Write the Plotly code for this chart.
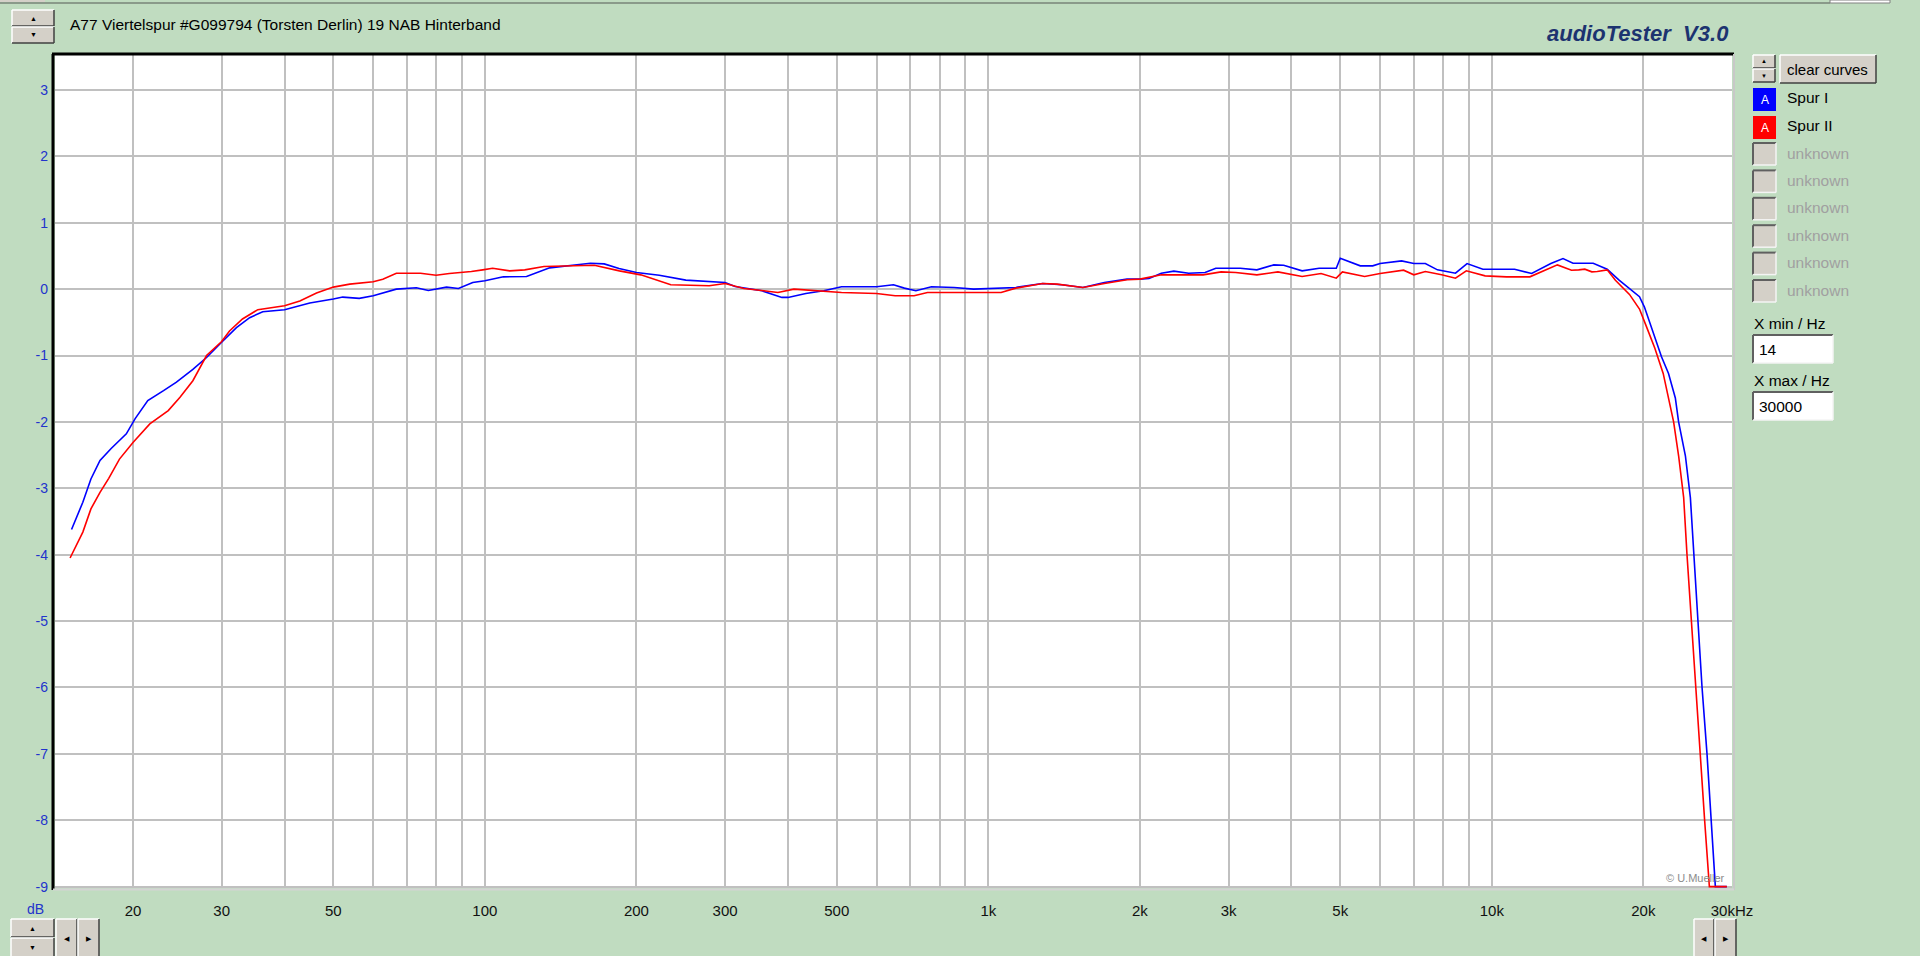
import plotly.graph_objects as go

# ---------------- data ----------------
title_text = "A77 Viertelspur #G099794 (Torsten Derlin) 19 NAB Hinterband"
logo_text = "audioTester  V3.0"

spur1_freq = [15.1, 15.9, 16.5, 17.2, 18.1, 19.4, 20.2, 21.4, 23.0, 24.4, 26.3, 28.0, 30, 32.1, 34.1, 36.2,
              40, 44.9, 50, 52.2, 56.3, 60, 66.7, 73.1, 77.2, 83.9, 88.6, 94.6, 100, 108.8, 121, 134.5,
              154, 162, 172.6, 184.7, 200, 222, 250.7, 279, 300, 314, 355, 389, 400, 434, 471, 511, 600,
              648, 681, 718, 771, 855, 935, 1134, 1282, 1400, 1541, 1700, 1886, 2000, 2085, 2206, 2336,
              2500, 2695, 2830, 3165, 3415, 3690, 3860, 4200, 4540, 4910, 5000, 5480, 5800, 6000, 6620,
              7000, 7380, 7800, 8470, 8930, 9600, 10300, 11100, 12000, 13100, 13850, 14500, 15900, 16950,
              17900, 18770, 19650, 20100, 20900, 21730, 22440, 23150, 23500, 24240, 24800, 25180, 25680,
              26160, 26760, 27300, 27800, 29300]
spur1_db = [-3.62, -3.21, -2.86, -2.58, -2.40, -2.18, -1.95, -1.68, -1.53, -1.40, -1.21, -1.03, -0.80, -0.58,
            -0.43, -0.34, -0.31, -0.21, -0.15, -0.12, -0.14, -0.10, 0.0, 0.02, -0.02, 0.03, 0.01, 0.10, 0.125,
            0.185, 0.19, 0.32, 0.37, 0.39, 0.38, 0.31, 0.25, 0.21, 0.135, 0.115, 0.10, 0.04, -0.025, -0.125,
            -0.125, -0.065, -0.025, 0.035, 0.035, 0.065, 0.015, -0.025, 0.035, 0.025, 0.0, 0.025, 0.085,
            0.065, 0.025, 0.10, 0.15, 0.15, 0.16, 0.24, 0.27, 0.24, 0.25, 0.315, 0.315, 0.29, 0.365, 0.36,
            0.275, 0.315, 0.315, 0.466, 0.35, 0.35, 0.385, 0.425, 0.385, 0.385, 0.29, 0.24, 0.385, 0.30,
            0.30, 0.30, 0.235, 0.385, 0.46, 0.39, 0.39, 0.30, 0.134, 0.0, -0.115, -0.27, -0.645, -1.02,
            -1.27, -1.64, -2.0, -2.51, -3.14, -4.0, -5.0, -6.0, -7.0, -8.0, -9.0, -9.0]

spur2_freq = [15.0, 15.9, 16.5, 17.2, 17.9, 18.8, 20, 21.6, 23.5, 24.8, 26.3, 28.0, 30, 31.1, 33.0, 35.4,
              40, 42.9, 46.3, 50, 53.9, 60, 62.7, 66.7, 74.5, 80, 85, 90, 94, 99, 103.6, 112, 120, 131,
              154, 165, 185, 204, 234, 279, 300, 327, 368, 382, 411, 452, 511, 600, 653, 712, 757, 885,
              1060, 1134, 1282, 1370, 1541, 1700, 1886, 2000, 2206, 2670, 2900, 3100, 3415, 3760, 4200,
              4580, 4910, 5050, 5590, 6000, 6680, 7000, 7380, 7950, 8470, 8900, 9700, 10700, 11900, 13500,
              14400, 14880, 15300, 15800, 16200, 16950, 17600, 18770, 19650, 20250, 21080, 21900, 22440,
              22970, 23500, 24050, 24420, 24900, 25420, 25940, 26470, 27050, 29300]
spur2_db = [-4.05, -3.66, -3.31, -3.06, -2.85, -2.56, -2.31, -2.03, -1.83, -1.63, -1.38, -1.0, -0.79, -0.63,
            -0.45, -0.31, -0.25, -0.18, -0.06, 0.03, 0.075, 0.11, 0.15, 0.24, 0.24, 0.21, 0.235, 0.25, 0.265,
            0.29, 0.315, 0.275, 0.29, 0.34, 0.35, 0.36, 0.275, 0.215, 0.065, 0.05, 0.085, 0.01, -0.035,
            -0.05, 0.0, -0.025, -0.05, -0.065, -0.10, -0.10, -0.05, -0.05, -0.05, 0.015, 0.085, 0.075,
            0.025, 0.085, 0.14, 0.15, 0.215, 0.215, 0.26, 0.25, 0.215, 0.26, 0.19, 0.235, 0.165, 0.26,
            0.19, 0.235, 0.285, 0.215, 0.265, 0.215, 0.165, 0.275, 0.20, 0.185, 0.185, 0.365, 0.285, 0.29,
            0.30, 0.26, 0.265, 0.29, 0.134, -0.08, -0.30, -0.55, -0.89, -1.27, -1.64, -2.0, -2.51, -3.14,
            -4.0, -5.0, -6.0, -7.0, -8.0, -9.0, -9.0]

series_names = ["Spur I", "Spur II"]
slot_names = ["unknown", "unknown", "unknown", "unknown", "unknown", "unknown"]

x_tick_vals = [20, 30, 50, 100, 200, 300, 500, 1000, 2000, 3000, 5000, 10000, 20000, 30000]
x_tick_text = ["20", "30", "50", "100", "200", "300", "500", "1k", "2k", "3k", "5k", "10k", "20k", "30kHz"]
grid_freqs = [20, 30, 40, 50, 60, 70, 80, 90, 100, 200, 300, 400, 500, 600, 700, 800, 900,
              1000, 2000, 3000, 4000, 5000, 6000, 7000, 8000, 9000, 10000, 20000]
y_tick_vals = [-9, -8, -7, -6, -5, -4, -3, -2, -1, 0, 1, 2, 3]
y_tick_text = ["-9", "-8", "-7", "-6", "-5", "-4", "-3", "-2", "-1", "0", "1", "2", "3"]
x_min_label, x_min_value = "X min / Hz", "14"
x_max_label, x_max_value = "X max / Hz", "30000"

# ---------------- layout geometry ----------------
W, H = 1920, 956
PL, PR, PT, PB = 55, 1732, 55, 888
BG = "#c0dcc0"
FONT = "Liberation Sans, Arial, sans-serif"


def px(x):
    return (x - PL) / (PR - PL)


def py(y):
    return (PB - y) / (PB - PT)


shapes = []
annotations = []


def line(x0, y0, x1, y1, color, width):
    shapes.append(dict(type="line", xref="paper", yref="paper", x0=px(x0), y0=py(y0), x1=px(x1), y1=py(y1),
                       line=dict(color=color, width=width), layer="above"))


def rect(x0, y0, x1, y1, fill, border=None, bw=1):
    shapes.append(dict(type="rect", xref="paper", yref="paper", x0=px(x0), y0=py(y0), x1=px(x1), y1=py(y1),
                       fillcolor=fill, line=dict(color=border or fill, width=bw if border else 0), layer="above"))


def raised(x0, y0, x1, y1):
    rect(x0, y0, x1, y1, "#d4d0c8")
    line(x0, y0, x1, y0, "#ffffff", 1.5)
    line(x0, y0, x0, y1, "#ffffff", 1.5)
    line(x0, y1, x1, y1, "#404040", 1.5)
    line(x1, y0, x1, y1, "#404040", 1.5)


def sunken(x0, y0, x1, y1, fill):
    rect(x0, y0, x1, y1, fill)
    line(x0, y0, x1, y0, "#606060", 2)
    line(x0, y0, x0, y1, "#606060", 2)
    line(x0, y1, x1, y1, "#f4f4f4", 1.5)
    line(x1, y0, x1, y1, "#f4f4f4", 1.5)


def text(x, y, s, size=14, color="#000000", xanchor="left", family=FONT):
    annotations.append(dict(xref="paper", yref="paper", x=px(x), y=py(y), text=s, showarrow=False,
                            xanchor=xanchor, yanchor="middle", font=dict(size=size, color=color, family=family)))


# window top edge
line(0, 3, 1830, 3, "#8a9a8a", 2)
rect(0, 0, 45, 2, "#d4d0c8")
rect(1830, 0, 1890, 3, "#ffffff", "#808080", 1)

# top-left spinner + title
raised(12, 10, 54, 26)
raised(12, 27, 54, 43)
text(33, 18, "▲", 7, xanchor="center")
text(33, 35, "▼", 7, xanchor="center")
text(68, 24, title_text, 15.5)

# logo
annotations.append(dict(xref="paper", yref="paper", x=px(1731), y=py(33), text="<b><i>" + logo_text + "</i></b>",
                        showarrow=False, xanchor="right", yanchor="middle",
                        font=dict(size=22, color="#1c3370", family=FONT)))

# plot frame (sunken)
line(52, 54, 1734, 54, "#000000", 3)
line(53, 54, 53, 890, "#000000", 3)
line(1734, 54, 1734, 890, "#c8c8c8", 2)
line(53, 889.5, 1734, 889.5, "#d4d4d4", 2)

# right panel
raised(1753, 55, 1775, 68)
raised(1753, 69, 1775, 82)
text(1764, 61.5, "▲", 6, xanchor="center")
text(1764, 75.5, "▼", 6, xanchor="center")
raised(1780, 55, 1876, 83)
text(1828, 69, "clear curves", 15, xanchor="center")

series_colors = ["#0000ff", "#ff0000"]
slot_y = [88, 116]
for name, col, y0 in zip(series_names, series_colors, slot_y):
    rect(1753, y0, 1776, y0 + 23, col)
    text(1764.5, y0 + 11.5, "A", 12, "#ffffff", xanchor="center")
    text(1785, y0 + 10, name, 15.5)

for i, name in enumerate(slot_names):
    y0 = 143 + i * 27.4
    sunken(1753, y0, 1776, y0 + 22, "#d4d0c8")
    text(1785, y0 + 10, name, 15.5, "#a0a0a0")

text(1752, 323, x_min_label, 15.5)
sunken(1753, 335, 1833, 363, "#ffffff")
text(1757, 349, x_min_value, 15.5)
text(1752, 380, x_max_label, 15.5)
sunken(1753, 392, 1833, 420, "#ffffff")
text(1757, 406, x_max_value, 15.5)

# bottom widgets
raised(11, 919, 54, 937)
raised(11, 938, 54, 958)
text(32.5, 928, "▲", 7, xanchor="center")
text(32.5, 947, "▼", 7, xanchor="center")
raised(56, 919, 77, 958)
raised(78, 919, 99, 958)
text(66.5, 938, "◀", 7, xanchor="center")
text(88.5, 938, "▶", 7, xanchor="center")
raised(1694, 919, 1714, 958)
raised(1715, 919, 1736, 958)
text(1704, 938, "◀", 7, xanchor="center")
text(1725.5, 938, "▶", 7, xanchor="center")

text(46, 909, "dB", 14, "#2233cc", xanchor="right")
text(1727, 878, "© U.Mueller", 11, "#8c8c8c", xanchor="right")

# ---------------- figure ----------------
fig = go.Figure()
fig.add_trace(go.Scatter(x=spur1_freq, y=spur1_db, mode="lines", name=series_names[0],
                         line=dict(color=series_colors[0], width=1.6)))
fig.add_trace(go.Scatter(x=spur2_freq, y=spur2_db, mode="lines", name=series_names[1],
                         line=dict(color=series_colors[1], width=1.6)))

minor_vals = [f for f in grid_freqs if f not in x_tick_vals]

fig.update_layout(
    width=W, height=H,
    margin=dict(l=PL, r=W - PR, t=PT, b=H - PB, pad=0),
    paper_bgcolor=BG, plot_bgcolor="#ffffff",
    showlegend=False,
    font=dict(family=FONT),
    shapes=shapes, annotations=annotations,
    xaxis=dict(type="log", range=[1.146128, 4.477121], tickmode="array", tickvals=x_tick_vals,
               ticktext=x_tick_text, showgrid=True, gridcolor="#c0c0c0", gridwidth=1.5,
               minor=dict(tickmode="array", tickvals=minor_vals, showgrid=True, gridcolor="#c0c0c0",
                          gridwidth=1.5, ticks=""),
               ticks="", showline=False, zeroline=False, ticklabelstandoff=12,
               tickfont=dict(size=15, color="#111111", family=FONT)),
    yaxis=dict(range=[-9.02, 3.526], tickmode="array", tickvals=y_tick_vals, ticktext=y_tick_text,
               showgrid=True, gridcolor="#c0c0c0", gridwidth=1.5, zeroline=False, ticks="", showline=False,
               ticklabelstandoff=6, tickfont=dict(size=14, color="#2233cc", family=FONT)),
)

fig.write_html("out.html", config={"displayModeBar": False},
               post_script="document.body.style.margin='0';document.body.style.background='#c0dcc0';")
